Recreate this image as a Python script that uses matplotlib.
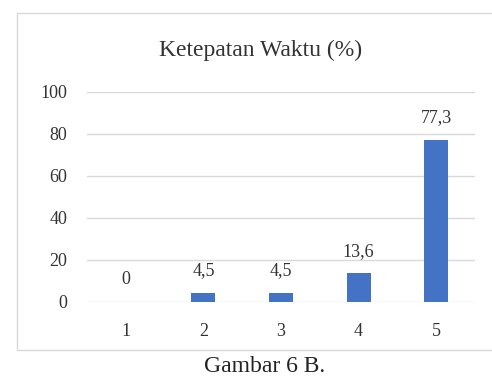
import matplotlib.pyplot as plt
from matplotlib.patches import Rectangle

categories = ['1', '2', '3', '4', '5']
values = [0, 4.5, 4.5, 13.6, 77.3]
value_labels = ['0', '4,5', '4,5', '13,6', '77,3']
yticks = [0, 20, 40, 60, 80, 100]

plt.rcParams['font.family'] = ['Liberation Serif', 'DejaVu Serif']

W, H = 492, 380
fig = plt.figure(figsize=(W / 100, H / 100), dpi=100)
fig.patch.set_facecolor('white')

# outer chart frame (light grey, runs off the right edge)
fig.patches.append(Rectangle((17 / W, 1 - 350 / H), 1.0, (350 - 13) / H,
                             transform=fig.transFigure, fill=False,
                             edgecolor='#d9d9d9', linewidth=1.0))

ax = fig.add_axes([87 / W, 1 - 302 / H, 388 / W, 210 / H])
x = range(len(categories))
ax.bar(x, values, width=0.31, color='#4472c4', zorder=3)
ax.set_xlim(-0.5, len(categories) - 0.5)
ax.set_ylim(0, 100)
ax.set_yticks(yticks)
ax.set_yticklabels([str(t) for t in yticks], fontsize=13, color='#333333')
ax.set_xticks(list(x))
ax.set_xticklabels(categories, fontsize=13, color='#333333')
ax.tick_params(length=0)
ax.tick_params(axis='y', pad=14)
ax.tick_params(axis='x', pad=15)
ax.grid(axis='y', color='#d9d9d9', linewidth=1.0, zorder=0)
for s in ax.spines.values():
    s.set_visible(False)

for i, (v, lab) in enumerate(zip(values, value_labels)):
    ax.annotate(lab, (i, v), xytext=(0, 16), textcoords='offset points',
                ha='center', va='center', fontsize=13, color='#333333')

fig.text(261 / W, 1 - 50 / H, 'Ketepatan Waktu (%)', ha='center', va='center',
         fontsize=17, color='#333333')
fig.text(265 / W, 1 - 367 / H, 'Gambar 6 B.', ha='center', va='center',
         fontsize=17, color='#222222')

fig.savefig('out.png', dpi=100)
